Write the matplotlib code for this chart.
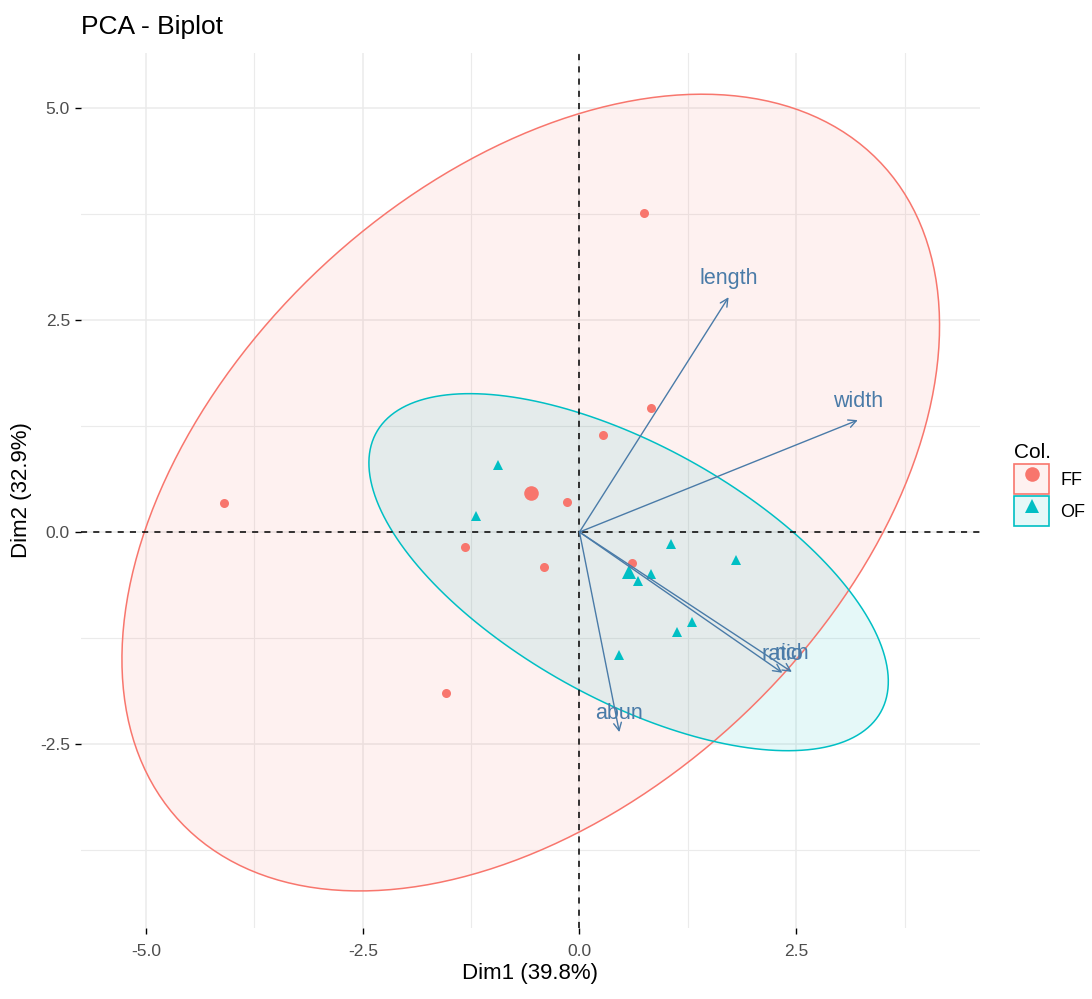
import matplotlib
matplotlib.use("Agg")
import matplotlib.pyplot as plt
from matplotlib.patches import Polygon, Rectangle
from matplotlib.lines import Line2D
from matplotlib.legend_handler import HandlerTuple
from matplotlib.ticker import MultipleLocator
import numpy as np

plt.rcParams['font.family'] = ['Liberation Sans', 'DejaVu Sans']

# Individuals (PCA coordinates), by group
ff_x = [0.74, 0.83, 0.27, -0.14, -4.10, -1.32, -0.41, 0.61, -1.54]
ff_y = [3.76, 1.46, 1.14, 0.35, 0.34, -0.18, -0.41, -0.37, -1.90]
of_x = [-0.94, -1.19, 1.06, 1.80, 0.82, 0.67, 1.30, 1.12, 0.46]
of_y = [0.79, 0.19, -0.14, -0.33, -0.50, -0.58, -1.06, -1.18, -1.45]

# Variables (scaled arrows)
var_names = ['length', 'width', 'rich', 'ratio', 'abun']
var_x = [1.72, 3.21, 2.45, 2.34, 0.46]
var_y = [2.77, 1.32, -1.65, -1.66, -2.36]

groups = ['FF', 'OF']
group_colors = {'FF': '#F8766D', 'OF': '#00BFC4'}
group_markers = {'FF': 'o', 'OF': '^'}
var_color = '#4A7BA8'

# stat_ellipse(type = "norm", level = 0.95): radius = sqrt(2 * qf(0.95, 2, n - 1))
QF_95_2_8 = 4.459


def norm_ellipse(x, y, npts=200):
    pts = np.column_stack([x, y])
    center = pts.mean(axis=0)
    cov = np.cov(pts, rowvar=False)
    radius = np.sqrt(2 * QF_95_2_8)
    vals, vecs = np.linalg.eigh(cov)
    t = np.linspace(0, 2 * np.pi, npts)
    circle = np.column_stack([np.cos(t), np.sin(t)])
    return center + radius * circle @ (vecs * np.sqrt(vals)).T


fig = plt.figure(figsize=(10.92, 9.99), dpi=100)
ax = fig.add_axes([81 / 1092, 1 - 928 / 999, (980 - 81) / 1092, (928 - 53) / 999])

data = {'FF': (ff_x, ff_y), 'OF': (of_x, of_y)}

# ellipses
for g in groups:
    gx, gy = data[g]
    poly = norm_ellipse(gx, gy)
    ax.add_patch(Polygon(poly, closed=True, facecolor=group_colors[g], alpha=0.1,
                         edgecolor='none', zorder=1))
    ax.add_patch(Polygon(poly, closed=True, facecolor='none',
                         edgecolor=group_colors[g], lw=1.1, zorder=1.1))

# reference lines
ax.axhline(0, color='black', lw=1.1, ls=(0, (4, 4)), zorder=2)
ax.axvline(0, color='black', lw=1.1, ls=(0, (4, 4)), zorder=2)

# points and group means
for g in groups:
    gx, gy = data[g]
    ax.plot(gx, gy, ls='none', marker=group_markers[g], color=group_colors[g],
            markersize=6.5, markeredgewidth=0, zorder=3)
    ax.plot(np.mean(gx), np.mean(gy), ls='none', marker=group_markers[g],
            color=group_colors[g], markersize=10.5, markeredgewidth=0, zorder=3)

# variable arrows
for name, vx, vy in zip(var_names, var_x, var_y):
    ax.annotate('', xy=(vx, vy), xytext=(0, 0),
                arrowprops=dict(arrowstyle='->', color=var_color, lw=1.0,
                                mutation_scale=14, shrinkA=0, shrinkB=0),
                zorder=4)
    ax.annotate(name, xy=(vx, vy), xytext=(0, 13.5), textcoords='offset points',
                ha='center', va='center', color=var_color, fontsize=15.5, zorder=5)

ax.set_xlim(-5.75, 4.62)
ax.set_ylim(-4.67, 5.65)
ax.xaxis.set_major_locator(MultipleLocator(2.5))
ax.yaxis.set_major_locator(MultipleLocator(2.5))
ax.xaxis.set_minor_locator(MultipleLocator(1.25))
ax.yaxis.set_minor_locator(MultipleLocator(1.25))
ax.xaxis.set_major_formatter(lambda v, p: f'{v:.1f}')
ax.yaxis.set_major_formatter(lambda v, p: f'{v:.1f}')
ax.grid(which='major', color='#EBEBEB', lw=1.1)
ax.grid(which='minor', color='#EBEBEB', lw=0.8)
ax.set_axisbelow(True)
for s in ax.spines.values():
    s.set_visible(False)
ax.tick_params(which='major', length=4, width=1, color='black',
               labelsize=12.5, labelcolor='#4D4D4D')
ax.tick_params(axis='x', which='major', pad=7.5)
ax.tick_params(axis='y', which='major', pad=4)
ax.tick_params(which='minor', length=0)

ax.set_xlabel('Dim1 (39.8%)', fontsize=16, labelpad=3)
ax.set_ylabel('Dim2 (32.9%)', fontsize=16, labelpad=6)
fig.text(81 / 1092, 1 - 27 / 999, 'PCA - Biplot', fontsize=19, ha='left', va='center')

# legend
handles = []
for g in groups:
    box = Rectangle((0, 0), 1, 1, facecolor=(*matplotlib.colors.to_rgb(group_colors[g]), 0.1),
                    edgecolor=group_colors[g], lw=1.2)
    mk = Line2D([], [], ls='none', marker=group_markers[g], color=group_colors[g],
                markersize=10.5, markeredgewidth=0)
    handles.append((box, mk))
fig.legend(handles, groups, handler_map={tuple: HandlerTuple(ndivide=1)},
           title='Col.', title_fontsize=15, fontsize=13, frameon=False,
           loc='upper left', bbox_to_anchor=(1014 / 1092, 1 - 443 / 999),
           handlelength=1.95, handleheight=2.2, labelspacing=0.1,
           handletextpad=0.6, borderpad=0, borderaxespad=0, alignment='left')

fig.savefig('out.png', dpi=100)
